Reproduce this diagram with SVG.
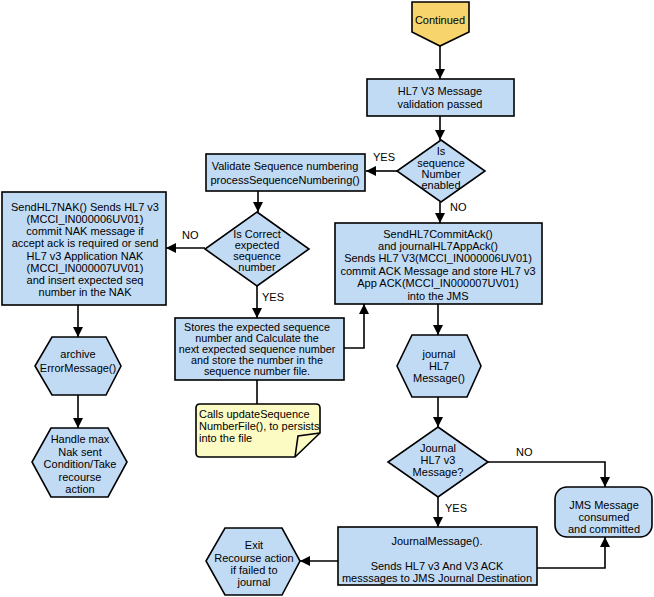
<svg xmlns="http://www.w3.org/2000/svg" width="654" height="597" viewBox="0 0 654 597">
<style>
.n{fill:#c2dbf5;stroke:#000;stroke-width:1.6}
.t{font-family:"Liberation Sans",Arial,sans-serif;font-size:11px;fill:#000;text-anchor:middle}
.l{font-family:"Liberation Sans",Arial,sans-serif;font-size:11px;fill:#000}
.c{fill:none;stroke:#000;stroke-width:1.6}
</style>
<defs>
<marker id="a" viewBox="0 0 10 10" refX="10" refY="5" markerWidth="10" markerHeight="10" markerUnits="userSpaceOnUse" orient="auto">
<path d="M0,0 L10,5 L0,10 z" fill="#000"/>
</marker>
</defs>
<rect width="654" height="597" fill="#fff"/>
<g id="connectors">
<path class="c" marker-end="url(#a)" d="M440,46 V79"/>
<path class="c" marker-end="url(#a)" d="M440,116 V140"/>
<path class="c" marker-end="url(#a)" d="M397,171 H366"/>
<path class="c" marker-end="url(#a)" d="M440,202 V223"/>
<path class="c" marker-end="url(#a)" d="M258,191 V212"/>
<path class="c" marker-end="url(#a)" d="M205,248 H166"/>
<path class="c" marker-end="url(#a)" d="M257,286 V318"/>
<path class="c" marker-end="url(#a)" d="M78,305 V337"/>
<path class="c" marker-end="url(#a)" d="M78,395 V428"/>
<path class="c" d="M257,380 V404"/>
<path class="c" marker-end="url(#a)" d="M344,348 H364 V304"/>
<path class="c" marker-end="url(#a)" d="M438,304 V335"/>
<path class="c" marker-end="url(#a)" d="M438,397 V427"/>
<path class="c" marker-end="url(#a)" d="M488,462 H605 V487"/>
<path class="c" marker-end="url(#a)" d="M438,497 V527"/>
<path class="c" marker-end="url(#a)" d="M537,568 H605 V537"/>
<path class="c" marker-end="url(#a)" d="M338,561 H300"/>
<text class="l" x="373" y="161">YES</text>
<text class="l" x="450" y="211">NO</text>
<text class="l" x="182" y="239">NO</text>
<text class="l" x="262" y="301">YES</text>
<text class="l" x="516" y="456">NO</text>
<text class="l" x="445" y="512">YES</text>
</g>
<g id="continued">
<path d="M412,2 H469 V32 L440,46 L412,32 Z" fill="#f7d46c" stroke="#000" stroke-width="1.6"/>
<text class="t" x="440" y="24">Continued</text>
</g>
<g id="validation">
<rect class="n" x="367" y="79" width="147" height="37"/>
<text class="t" x="440" y="95">HL7 V3 Message</text>
<text class="t" x="440" y="108">validation passed</text>
</g>
<g id="seqEnabled">
<polygon class="n" points="441,140 485,171 441,202 397,171"/>
<text class="t" x="441" y="155">Is</text>
<text class="t" x="441" y="167">sequence</text>
<text class="t" x="441" y="178">Number</text>
<text class="t" x="441" y="189">enabled</text>
</g>
<g id="validateSeq">
<rect class="n" x="206" y="154" width="159" height="37"/>
<text class="t" x="285" y="170">Validate Sequence numbering</text>
<text class="t" x="285" y="184">processSequenceNumbering()</text>
</g>
<g id="correctSeq">
<polygon class="n" points="257,212 309,249 257,286 205,249"/>
<text class="t" x="257" y="238">Is Correct</text>
<text class="t" x="257" y="249">expected</text>
<text class="t" x="257" y="260">sequence</text>
<text class="t" x="257" y="271">number</text>
</g>
<g id="sendNak">
<rect class="n" x="2" y="192" width="164" height="113"/>
<text class="t" x="85" y="211">SendHL7NAK() Sends HL7 v3</text>
<text class="t" x="85" y="223">(MCCI_IN000006UV01)</text>
<text class="t" x="85" y="235">commit NAK message if</text>
<text class="t" x="85" y="247">accept ack is required or send</text>
<text class="t" x="85" y="260">HL7 v3 Application NAK</text>
<text class="t" x="85" y="272">(MCCI_IN000007UV01)</text>
<text class="t" x="85" y="284">and insert expected seq</text>
<text class="t" x="85" y="296">number in the NAK</text>
</g>
<g id="archive">
<polygon class="n" points="52,337 106,337 121,366 106,395 52,395 35,366"/>
<text class="t" x="78" y="358">archive</text>
<text class="t" x="78" y="372">ErrorMessage()</text>
</g>
<g id="handleMax">
<polygon class="n" points="51,428 108,428 127,462 108,497 51,497 32,462"/>
<text class="t" x="80" y="443">Handle max</text>
<text class="t" x="80" y="456">Nak sent</text>
<text class="t" x="80" y="468">Condition/Take</text>
<text class="t" x="80" y="481">recourse</text>
<text class="t" x="80" y="493">action</text>
</g>
<g id="stores">
<rect class="n" x="175" y="318" width="169" height="62"/>
<text class="t" x="257" y="331" style="font-size:10.8px">Stores the expected sequence</text>
<text class="t" x="257" y="342" style="font-size:10.8px">number and Calculate the</text>
<text class="t" x="257" y="353" style="font-size:10.8px">next expected sequence number</text>
<text class="t" x="257" y="364" style="font-size:10.8px">and store the number in the</text>
<text class="t" x="257" y="375" style="font-size:10.8px">sequence number file.</text>
</g>
<g id="note">
<path d="M200,404 H316 Q320,404 320,408 V433 L295,457 H200 Q196,457 196,453 V408 Q196,404 200,404 Z" fill="#fdfbc4" stroke="#000" stroke-width="1.6"/>
<path d="M295,457 L298,436 L320,433" fill="none" stroke="#000" stroke-width="1.6"/>
<text class="l" x="199" y="418">Calls updateSequence</text>
<text class="l" x="199" y="430">NumberFile(), to persists</text>
<text class="l" x="199" y="442">into the file</text>
</g>
<g id="commitAck">
<rect class="n" x="335" y="223" width="207" height="81"/>
<text class="t" x="438" y="238">SendHL7CommitAck()</text>
<text class="t" x="438" y="250">and journalHL7AppAck()</text>
<text class="t" x="438" y="262">Sends HL7 V3(MCCI_IN000006UV01)</text>
<text class="t" x="438" y="275">commit ACK Message and store HL7 v3</text>
<text class="t" x="438" y="287">App ACK(MCCI_IN000007UV01)</text>
<text class="t" x="438" y="300">into the JMS</text>
</g>
<g id="journalHex">
<polygon class="n" points="412,335 467,335 481,366 467,397 412,397 397,366"/>
<text class="t" x="439" y="358">journal</text>
<text class="t" x="439" y="370">HL7</text>
<text class="t" x="439" y="382">Message()</text>
</g>
<g id="journalQ">
<polygon class="n" points="438,427 488,462 438,497 388,462"/>
<text class="t" x="438" y="452">Journal</text>
<text class="t" x="438" y="464">HL7 v3</text>
<text class="t" x="438" y="476">Message?</text>
</g>
<g id="jms">
<rect class="n" x="555" y="487" width="97" height="50" rx="12" ry="12"/>
<text class="t" x="604" y="509">JMS Message</text>
<text class="t" x="604" y="521">consumed</text>
<text class="t" x="604" y="533">and committed</text>
</g>
<g id="journalMsg">
<rect class="n" x="338" y="527" width="199" height="58"/>
<text class="t" x="437" y="545">JournalMessage().</text>
<text class="t" x="437" y="570">Sends HL7 v3 And V3 ACK</text>
<text class="t" x="437" y="582">messsages to JMS Journal Destination</text>
</g>
<g id="exit">
<polygon class="n" points="225,528 282,528 300,561 282,595 225,595 206,561"/>
<text class="t" x="254" y="549">Exit</text>
<text class="t" x="254" y="562">Recourse action</text>
<text class="t" x="254" y="574">if failed to</text>
<text class="t" x="254" y="586">journal</text>
</g>
</svg>
